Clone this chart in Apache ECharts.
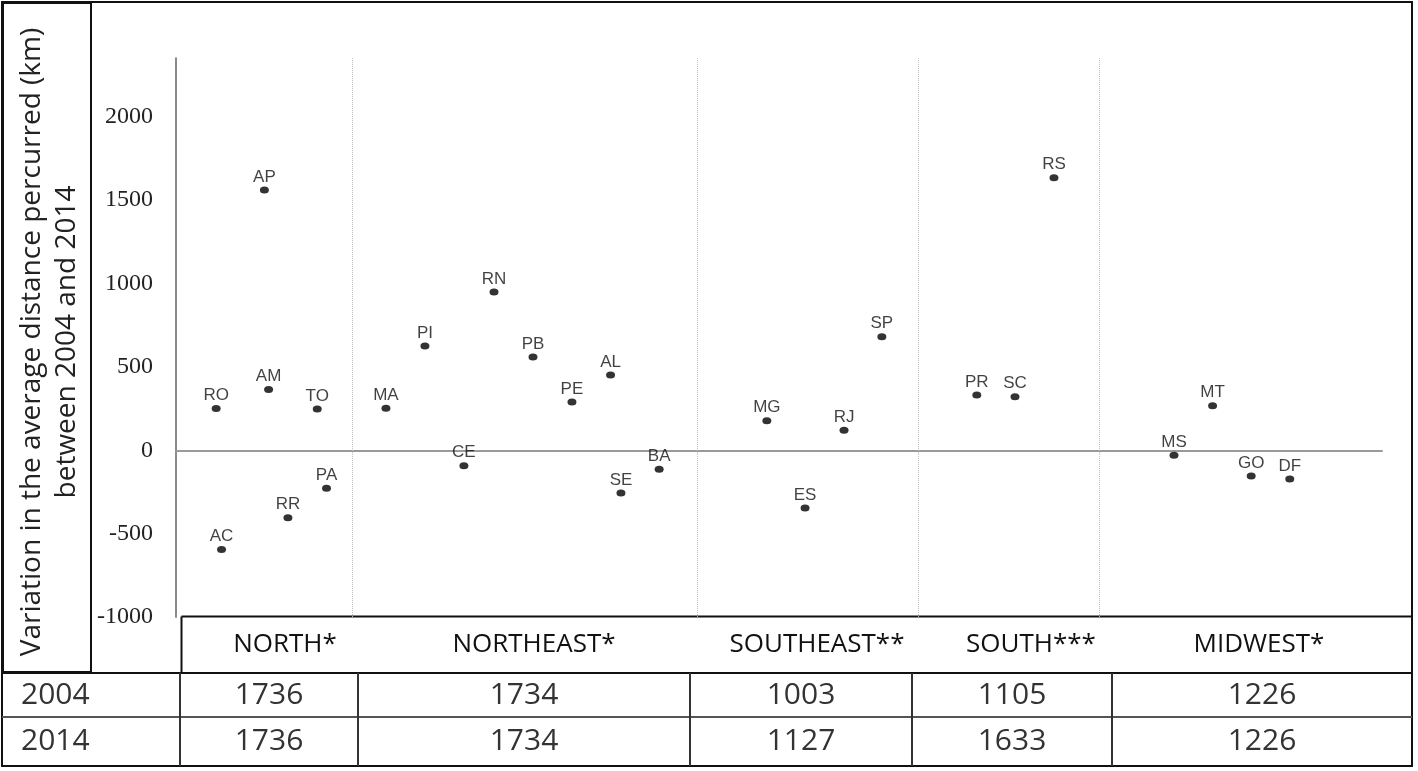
<!DOCTYPE html>
<html>
<head>
<meta charset="utf-8">
<script src="https://cdn.jsdelivr.net/npm/echarts@6/dist/echarts.min.js"></script>
<style>
  html, body { margin: 0; padding: 0; background: #fff; }
  #chart { width: 1418px; height: 771px; }
</style>
</head>
<body>
<div id="chart"></div>
<script>
// states, their horizontal slot on the plot and the variation (km)
const states = ['RO','AC','AP','AM','RR','TO','PA','MA','PI','CE','RN','PB','PE','AL','SE','BA','MG','ES','RJ','SP','PR','SC','RS','MS','MT','GO','DF']
const slots = [1.04,1.18,2.29,2.40,2.90,3.66,3.90,5.44,6.45,7.46,8.24,9.25,10.26,11.26,11.53,12.52,15.31,16.30,17.31,18.29,20.75,21.74,22.75,25.86,26.86,27.86,28.86]
const variation = [250,-595,1560,365,-404,248,-228,252,625,-92,949,559,290,451,-256,-114,177,-346,120,681,332,321,1634,-30,267,-154,-172]

// region separators (in slot units) and the table below the plot
const regionBreaks = [4.56, 13.50, 19.23, 23.92]
const regions = ['NORTH*','NORTHEAST*','SOUTHEAST**','SOUTH***','MIDWEST*']
const years = ['2004','2014']
const dist2004 = [1736,1734,1003,1105,1226]
const dist2014 = [1736,1734,1127,1633,1226]

// table layout (pixels)
const colEdges = [180,358,690,912,1112,1412]
const headerX = [285,534,817,1031,1259]
const rowY = [695,741]

const chart = echarts.init(document.getElementById('chart'))

const pts = states.map((s,i)=>({ name:s, value:[slots[i], variation[i]] }))

const graphics = []
// outer frame and axis-title box
graphics.push({ type:'rect', shape:{x:2,y:2,width:1410,height:764}, style:{fill:null, stroke:'#111', lineWidth:2} })
graphics.push({ type:'rect', shape:{x:3,y:3,width:88,height:669}, style:{fill:null, stroke:'#111', lineWidth:2} })
graphics.push({
  type:'text', x:50, y:342, rotation:Math.PI/2,
  style:{
    text:'Variation in the average distance percurred (km)\nbetween 2004 and 2014',
    font:'28px "Open Sans"', fill:'#222', textAlign:'center', textVerticalAlign:'middle', lineHeight:35
  }
})
// table frame
const ln = (x1,y1,x2,y2,c,w)=>graphics.push({ type:'line', shape:{x1,y1,x2,y2}, style:{stroke:c||'#111', lineWidth:w||2} })
ln(181.5,616.5,1412,616.5)
ln(181.5,616.5,181.5,673)
ln(2,673,1412,673)
ln(2,717,1412,717,'#555',2)
colEdges.slice(0,5).forEach(x=>ln(x,673,x,766,'#333',2))
regions.forEach((r,i)=>graphics.push({ type:'text', x:headerX[i], y:645,
  style:{text:r, font:'26px "Open Sans"', fill:'#111', textAlign:'center', textVerticalAlign:'middle'} }))
;[dist2004, dist2014].forEach((row,j)=>{
  graphics.push({ type:'text', x:21, y:rowY[j],
    style:{text:years[j], font:'30px "Open Sans"', fill:'#333', textAlign:'left', textVerticalAlign:'middle'} })
  row.forEach((v,i)=>graphics.push({ type:'text', x:(colEdges[i]+colEdges[i+1])/2, y:rowY[j],
    style:{text:String(v), font:'30px "Open Sans"', fill:'#333', textAlign:'center', textVerticalAlign:'middle'} }))
})

chart.setOption({
  backgroundColor:'#fff',
  animation:false,
  grid:{ left:176, right:36, top:58.3, bottom:153.9 },
  xAxis:{
    type:'value', min:0, max:31.25,
    axisLine:{ show:true, onZero:true, lineStyle:{ color:'#9a9a9a', width:2 } },
    axisTick:{ show:false }, axisLabel:{ show:false }, splitLine:{ show:false }
  },
  yAxis:{
    type:'value', min:-1000, max:2350, interval:500,
    axisLine:{ show:true, lineStyle:{ color:'#8a8a8a', width:2 } },
    axisTick:{ show:false }, splitLine:{ show:false },
    axisLabel:{ showMaxLabel:false, margin:23, formatter:v=>String(v),
      fontFamily:'"Liberation Serif"', fontSize:24, color:'#222' }
  },
  series:[{
    type:'scatter',
    data:pts,
    symbol:'circle',
    symbolSize:[9,7],
    itemStyle:{ color:'#000' },
    label:{
      show:true, position:'top', distance:1,
      formatter:p=>p.name,
      fontFamily:'"Liberation Sans"', fontSize:17, color:'#111'
    },
    markLine:{
      silent:true, symbol:'none',
      label:{ show:false },
      lineStyle:{ type:'dotted', color:'#bdbdbd', width:1 },
      data:regionBreaks.map(x=>({ xAxis:x }))
    }
  }],
  graphic:graphics
})
</script>
</body>
</html>
